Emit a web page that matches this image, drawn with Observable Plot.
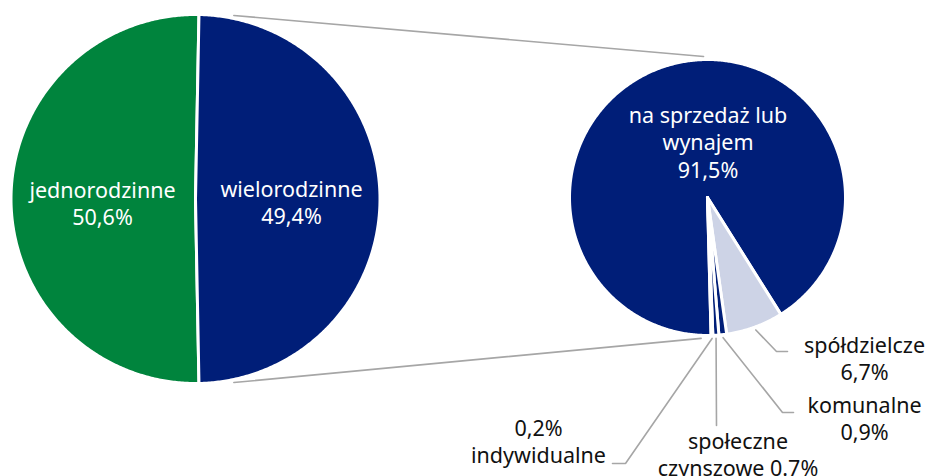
<!DOCTYPE html>
<html><head><meta charset="utf-8">
<script src="https://cdn.jsdelivr.net/npm/d3@7"></script>
<script src="https://cdn.jsdelivr.net/npm/@observablehq/plot@0.6"></script>
<style>html,body{margin:0;padding:0;background:#fff} svg{display:block}</style>
</head><body><div id="chart"></div>
<script>
// ---- data ----
const mainCategories = ["jednorodzinne", "wielorodzinne"];
const mainValues = [50.6, 49.4];
const mainLabelLines = [["jednorodzinne", "50,6%"], ["wielorodzinne", "49,4%"]];
const subCategories = ["na sprzedaż lub wynajem", "spółdzielcze", "komunalne", "społeczne czynszowe", "indywidualne"];
const subValues = [91.5, 6.7, 0.9, 0.7, 0.2];
const subLabelLines = [
  ["na sprzedaż lub", "wynajem", "91,5%"],
  ["spółdzielcze", "6,7%"],
  ["komunalne", "0,9%"],
  ["społeczne", "czynszowe 0.7%"],
  ["0,2%", "indywidualne"]
];
const allCategories = [...mainCategories, ...subCategories];
const sliceColors = ["#00843D", "#001E78", "#001E78", "#CDD3E6", "#001E78", "#001E78", "#001E78"];

// ---- layout ----
const deg = Math.PI / 180;
const big = {cx: 195, cy: 198.5, r: 184.5};
const small = {cx: 707, cy: 197, r: 138};
const bigStart = 90 * deg + Math.PI * mainValues[1] / 100; // split slice centred on the right
const smallStart = 178.5 * deg;
const fontSize = 21.5, lineStep = 27.5;
const mainLabelPos = [[102, 197], [291, 196]];
const subLabelPos = [[707.5, 122], [864, 352], [864, 412], [737.5, 448], [538, 435]];
const subLeaderPath = [null, [[776, 351], [787, 351]], [[782, 412], [793, 412]], [[716, 425]], [[625, 463], [612, 463]]];
const connectorAngles = [[11.8, -1.6], [168.2, 182.6]];

function pt(c, r, a) { return [c.cx + r * Math.sin(a), c.cy - r * Math.cos(a)]; }
function wedge(c, a0, a1) {
  const pts = [[c.cx, c.cy]];
  const n = Math.max(2, Math.ceil((a1 - a0) / (0.5 * deg)));
  for (let i = 0; i <= n; i++) pts.push(pt(c, c.r, a0 + (a1 - a0) * i / n));
  pts.push([c.cx, c.cy]);
  return pts;
}

const bigArcs = d3.pie().sort(null).startAngle(bigStart).endAngle(bigStart + 2 * Math.PI)(mainValues);
const smallArcs = d3.pie().sort(null).startAngle(smallStart).endAngle(smallStart + 2 * Math.PI)(subValues);

const wedgeRows = [];
bigArcs.forEach((a, i) => wedge(big, a.startAngle, a.endAngle).forEach(([x, y]) => wedgeRows.push({key: "m" + i, cat: mainCategories[i], x, y})));
smallArcs.forEach((a, i) => wedge(small, a.startAngle, a.endAngle).forEach(([x, y]) => wedgeRows.push({key: "s" + i, cat: subCategories[i], x, y})));

const whiteText = [], darkText = [];
mainLabelLines.forEach((lines, i) => lines.forEach((t, j) => whiteText.push({x: mainLabelPos[i][0], y: mainLabelPos[i][1] + j * lineStep, t})));
subLabelLines.forEach((lines, i) => lines.forEach((t, j) => (i === 0 ? whiteText : darkText).push({x: subLabelPos[i][0], y: subLabelPos[i][1] + j * lineStep, t})));

const grayRows = [];
smallArcs.forEach((a, i) => {
  if (!subLeaderPath[i]) return;
  const mid = (a.startAngle + a.endAngle) / 2;
  const [x0, y0] = pt(small, small.r + 3, mid);
  grayRows.push({key: "l" + i, x: x0, y: y0});
  subLeaderPath[i].forEach(([x, y]) => grayRows.push({key: "l" + i, x, y}));
});
connectorAngles.forEach(([ab, as], i) => {
  const [x0, y0] = pt(big, big.r + 3, ab * deg);
  const [x1, y1] = pt(small, small.r + 3, as * deg);
  grayRows.push({key: "c" + i, x: x0, y: y0}, {key: "c" + i, x: x1, y: y1});
});

const font = "'Noto Sans', sans-serif";
const chart = Plot.plot({
  width: 932, height: 476, margin: 0,
  x: {domain: [0, 932], range: [0, 932], axis: null},
  y: {domain: [0, 476], range: [0, 476], axis: null},
  color: {domain: allCategories, range: sliceColors},
  marks: [
    Plot.line(grayRows, {x: "x", y: "y", z: "key", stroke: "#A6A6A6", strokeWidth: 1.6, strokeLinejoin: "miter"}),
    Plot.line(wedgeRows, {x: "x", y: "y", z: "key", fill: "cat", stroke: "white", strokeWidth: 3, strokeLinejoin: "round"}),
    Plot.text(whiteText, {x: "x", y: "y", text: "t", fill: "white", fontSize, fontFamily: font, lineAnchor: "bottom", textAnchor: "middle"}),
    Plot.text(darkText, {x: "x", y: "y", text: "t", fill: "#111", fontSize, fontFamily: font, lineAnchor: "bottom", textAnchor: "middle"})
  ]
});
document.getElementById("chart").appendChild(chart);
</script>
</body></html>
